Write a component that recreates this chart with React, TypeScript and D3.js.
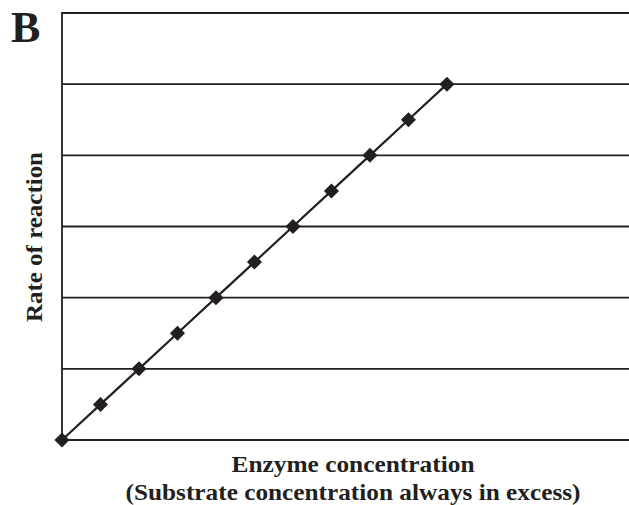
import { useEffect, useRef } from 'react';
import * as d3 from 'd3';

const enzyme = [0, 1, 2, 3, 4, 5, 6, 7, 8, 9, 10];
const rate = [0, 0.5, 1, 1.5, 2, 2.5, 3, 3.5, 4, 4.5, 5];
const yTicks = [0, 1, 2, 3, 4, 5, 6];

const ink = '#231f20';
const font = "'Liberation Serif', 'DejaVu Serif', serif";

export default function App() {
  const ref = useRef<SVGSVGElement | null>(null);

  useEffect(() => {
    const svg = d3.select(ref.current);
    svg.selectAll('*').remove();

    const margin = { top: 13, right: 0, bottom: 65, left: 62 };
    const width = 629, height = 505;
    const w = width - margin.left - margin.right;
    const h = height - margin.top - margin.bottom;

    const x = d3.scaleLinear().domain([0, 14.73]).range([0, w]);
    const y = d3.scaleLinear().domain([0, 6]).range([h, 0]);

    const g = svg.append('g').attr('transform', `translate(${margin.left},${margin.top})`);

    g.selectAll('.grid').data(yTicks).enter().append('line')
      .attr('x1', 0).attr('x2', w + 5).attr('y1', d => y(d)).attr('y2', d => y(d))
      .style('stroke', ink).style('stroke-width', 1.8);

    g.append('line').attr('x1', 0).attr('x2', 0).attr('y1', y(6) - 0.9).attr('y2', y(0) + 0.9)
      .style('stroke', ink).style('stroke-width', 1.8);

    const pts = enzyme.map((e, i) => [e, rate[i]] as [number, number]);
    g.append('path').datum(pts)
      .attr('d', d3.line<[number, number]>().x(d => x(d[0])).y(d => y(d[1])))
      .style('fill', 'none').style('stroke', ink).style('stroke-width', 2.2);

    const diamond = d3.symbol().type(d3.symbolDiamond2).size(145);
    g.selectAll('.pt').data(pts).enter().append('path')
      .attr('transform', d => `translate(${x(d[0])},${y(d[1])})`)
      .attr('d', diamond)
      .style('fill', ink);

    svg.append('text').attr('x', 11).attr('y', 42)
      .style('font-family', font).style('font-weight', 'bold').style('font-size', '44px')
      .style('fill', ink).text('B');

    svg.append('text')
      .attr('transform', `translate(42,237) rotate(-90)`)
      .attr('text-anchor', 'middle')
      .attr('textLength', 170).attr('lengthAdjust', 'spacingAndGlyphs')
      .style('font-family', font).style('font-weight', 'bold').style('font-size', '23px')
      .style('fill', ink).text('Rate of reaction');

    const cx = 353;
    svg.append('text').attr('x', cx).attr('y', 472).attr('text-anchor', 'middle')
      .attr('textLength', 243).attr('lengthAdjust', 'spacingAndGlyphs')
      .style('font-family', font).style('font-weight', 'bold').style('font-size', '23px')
      .style('fill', ink).text('Enzyme concentration');
    svg.append('text').attr('x', cx).attr('y', 500).attr('text-anchor', 'middle')
      .attr('textLength', 455).attr('lengthAdjust', 'spacingAndGlyphs')
      .style('font-family', font).style('font-weight', 'bold').style('font-size', '23px')
      .style('fill', ink).text('(Substrate concentration always in excess)');
  }, []);

  return (
    <svg ref={ref} width={629} height={505}
      style={{ position: 'absolute', left: 0, top: 0, background: '#fff' }} />
  );
}
